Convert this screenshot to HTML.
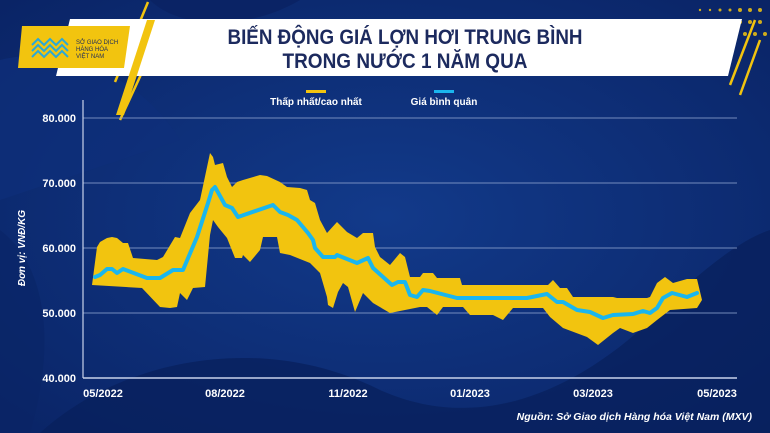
<!DOCTYPE html>
<html><head><meta charset="utf-8"><style>
html,body{margin:0;padding:0;width:770px;height:433px;overflow:hidden;background:#0c2a72;}
svg{display:block;font-family:"Liberation Sans","DejaVu Sans",sans-serif;}
</style></head><body>
<svg width="770" height="433" viewBox="0 0 770 433" xmlns="http://www.w3.org/2000/svg">
<defs>
<radialGradient id="bg" cx="0.5" cy="0.5" r="0.7">
<stop offset="0" stop-color="#123a8a"/><stop offset="1" stop-color="#0a2466"/></radialGradient>
</defs>
<rect width="770" height="433" fill="url(#bg)"/>
<path d="M0 60 C80 40 150 90 180 140 L0 200Z" fill="#0e2f7a" opacity="0.7"/>
<path d="M150 0 C180 30 250 30 300 0Z" fill="#0a2263" opacity="0.8"/>
<path d="M40 433 C120 360 260 330 380 390 C470 430 560 400 640 330 C700 270 740 240 770 230 L770 433Z" fill="#08205c" opacity="0.75"/>
<path d="M0 230 C40 260 60 330 30 433 L0 433Z" fill="#0a2566" opacity="0.6"/>
<!-- dots top right -->
<g fill="#f2c40f" opacity="0.85">
<circle cx="700" cy="10" r="1.2"/><circle cx="710" cy="10" r="1.2"/><circle cx="720" cy="10" r="1.5"/><circle cx="730" cy="10" r="1.5"/><circle cx="740" cy="10" r="2"/><circle cx="750" cy="10" r="2"/><circle cx="760" cy="10" r="2"/>
<circle cx="730" cy="22" r="1.5"/><circle cx="740" cy="22" r="2"/><circle cx="750" cy="22" r="2"/><circle cx="760" cy="22" r="2"/>
<circle cx="745" cy="34" r="2"/><circle cx="755" cy="34" r="2"/><circle cx="765" cy="34" r="2"/>
</g>
<!-- yellow slashes -->
<g stroke="#f2c40f" stroke-width="2.5">
<line x1="148" y1="2" x2="115" y2="82"/><line x1="150" y1="55" x2="120" y2="120"/>
<line x1="755" y1="20" x2="730" y2="85"/><line x1="760" y1="40" x2="740" y2="95"/>
</g>
<!-- banner -->
<polygon points="70,19 742,19 728,76 56,76" fill="#ffffff"/>
<polygon points="22,26 130,26 124,68 18,68" fill="#f2c40f"/>
<polygon points="155,20 147,20 116,115 124,115" fill="#f2c40f"/>
<g fill="none" stroke="#2aa8d8" stroke-width="2">
<path d="M32 45 l6 -6 l6 6 l6 -6 l6 6 l6 -6 l6 6"/><path d="M32 51 l6 -6 l6 6 l6 -6 l6 6 l6 -6 l6 6"/><path d="M32 57 l6 -6 l6 6 l6 -6 l6 6 l6 -6 l6 6"/>
</g>
<text x="76" y="44" font-size="6" fill="#1d2b5a">SỞ GIAO DỊCH</text>
<text x="76" y="51" font-size="6" fill="#1d2b5a">HÀNG HÓA</text>
<text x="76" y="58" font-size="6" fill="#1d2b5a">VIỆT NAM</text>
<text x="405" y="44" font-size="21" font-weight="bold" fill="#1c2a5e" text-anchor="middle" textLength="355" lengthAdjust="spacingAndGlyphs">BIẾN ĐỘNG GIÁ LỢN HƠI TRUNG BÌNH</text>
<text x="405" y="68" font-size="21" font-weight="bold" fill="#1c2a5e" text-anchor="middle" textLength="245" lengthAdjust="spacingAndGlyphs">TRONG NƯỚC 1 NĂM QUA</text>
<!-- legend -->
<rect x="306" y="90" width="20" height="3" fill="#f2c40f"/>
<text x="316" y="105" font-size="10" font-weight="bold" fill="#fff" text-anchor="middle">Thấp nhất/cao nhất</text>
<rect x="434" y="90" width="20" height="3" fill="#1ab6ee"/>
<text x="444" y="105" font-size="10" font-weight="bold" fill="#fff" text-anchor="middle">Giá bình quân</text>
<!-- grid -->
<g stroke="#8ea3cf" stroke-width="1" opacity="0.8">
<line x1="83" y1="118" x2="737" y2="118"/><line x1="83" y1="183" x2="737" y2="183"/><line x1="83" y1="248" x2="737" y2="248"/><line x1="83" y1="313" x2="737" y2="313"/>
</g>
<line x1="83" y1="378" x2="737" y2="378" stroke="#c8d2ea" stroke-width="1.5"/>
<line x1="83" y1="100" x2="83" y2="378" stroke="#c8d2ea" stroke-width="1.2"/>
<g font-size="11" font-weight="bold" fill="#fff" text-anchor="end">
<text x="76" y="122">80.000</text><text x="76" y="187">70.000</text><text x="76" y="252">60.000</text><text x="76" y="317">50.000</text><text x="76" y="382">40.000</text>
</g>
<text transform="translate(25,248) rotate(-90)" font-size="10" font-weight="bold" font-style="italic" fill="#fff" text-anchor="middle">Đơn vị: VNĐ/KG</text>
<g font-size="11" font-weight="bold" fill="#fff" text-anchor="middle">
<text x="103" y="397">05/2022</text><text x="225" y="397">08/2022</text><text x="348" y="397">11/2022</text><text x="470" y="397">01/2023</text><text x="593" y="397">03/2023</text><text x="717" y="397">05/2023</text>
</g>
<text x="752" y="420" font-size="10.5" font-weight="bold" font-style="italic" fill="#fff" text-anchor="end">Nguồn: Sở Giao dịch Hàng hóa Việt Nam (MXV)</text>
<!-- band -->
<polygon fill="#f2c40f" points="92,285 97,247 100,242 107,238 112,237 117,238 123,243 128,243 133,258 157,260 163,257 175,237 180,238 190,213 200,200 210,153 213,157 215,165 223,163 227,177 232,187 237,182 243,180 260,175 267,176 280,182 287,187 300,188 307,190 310,200 315,203 320,220 327,233 337,222 347,232 357,238 363,233 373,233 375,247 380,257 390,265 400,253 405,257 410,277 420,277 423,273 433,273 437,278 460,278 462,285 548,285 553,280 560,288 567,288 573,297 613,297 617,298 647,298 650,297 657,283 665,277 673,283 687,279 697,279 702,300 697,308 670,310 657,320 647,328 633,333 620,328 613,333 598,345 587,337 563,328 550,317 543,308 513,308 503,320 493,315 470,315 463,307 443,307 437,315 427,307 420,307 390,313 373,303 363,293 355,312 348,287 343,283 338,292 333,308 328,305 327,297 320,273 310,263 290,255 280,253 277,237 263,237 260,250 250,262 243,255 242,258 235,258 227,238 218,227 213,220 210,235 205,287 193,288 187,300 180,293 177,307 170,308 160,307 142,288"/>
<polyline fill="none" stroke="#1ab6ee" stroke-width="4" stroke-linejoin="round" stroke-linecap="round" points="95,277 100,275 107,269 112,269 117,273 123,269 147,278 160,278 173,270 183,270 197,237 208,203 212,190 215,187 225,205 232,208 238,217 273,205 280,212 288,215 297,220 308,233 313,240 315,248 323,257 335,257 337,255 357,263 368,258 373,268 392,285 398,282 405,282 410,295 417,297 423,290 430,291 457,298 527,298 547,294 557,302 563,302 577,310 590,312 603,318 613,315 633,314 643,311 650,313 657,308 663,298 672,293 687,297 697,293"/>
</svg>
</body></html>
